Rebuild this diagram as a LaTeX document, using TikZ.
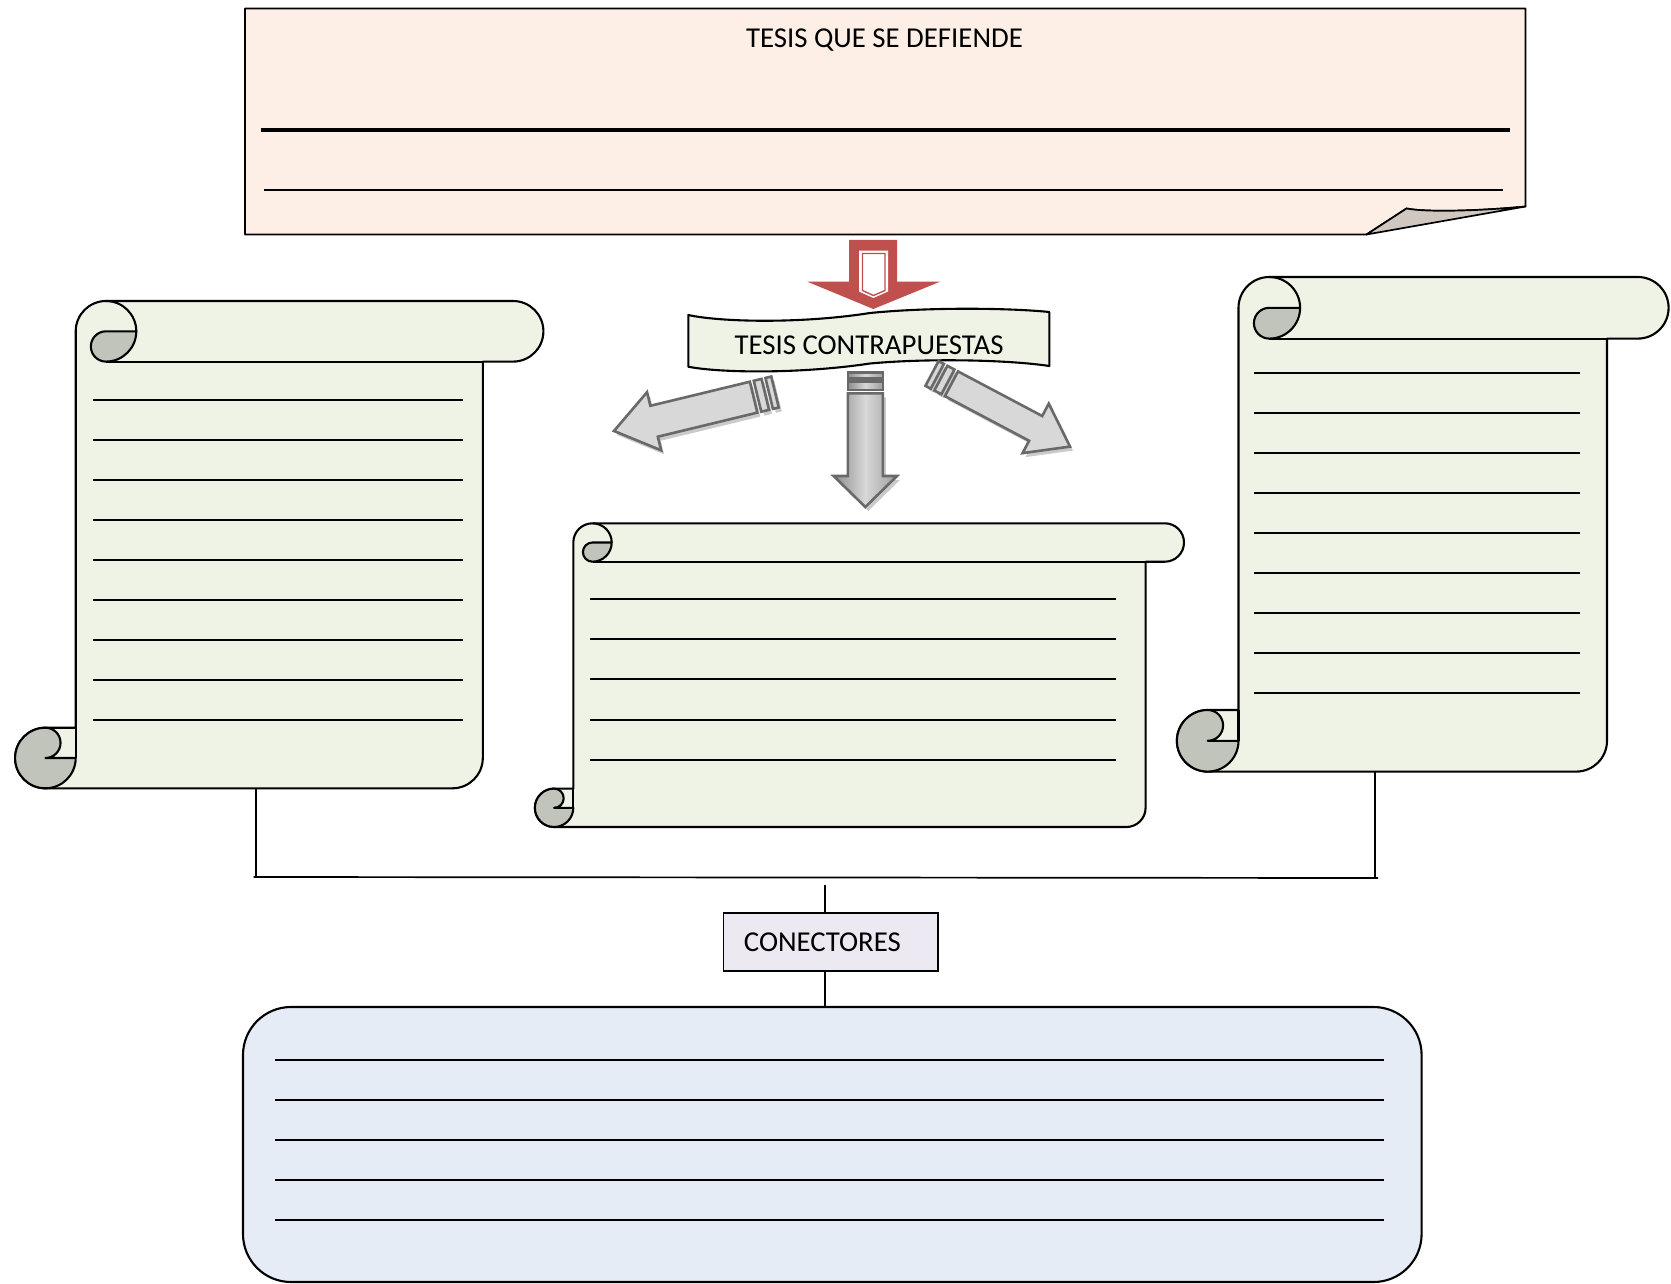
\documentclass[tikz,border=0pt]{standalone}
\usepackage{fontspec}
\setmainfont{Carlito}

\definecolor{pagebg}{RGB}{253,239,230}
\definecolor{foldgray}{RGB}{208,200,192}
\definecolor{scrollbg}{RGB}{239,243,229}
\definecolor{curlgray}{RGB}{193,196,186}
\definecolor{tipred}{RGB}{192,80,77}
\definecolor{arrowgray}{RGB}{216,216,216}
\definecolor{arrowedge}{RGB}{105,105,105}
\definecolor{shadegray}{RGB}{140,140,140}
\definecolor{notesbg}{RGB}{230,236,245}
\definecolor{conbg}{RGB}{236,233,242}

% vertical scroll: #1 left, #2 top, #3 right of sheet, #4 bottom, #5 curl radius
\newcommand{\vscroll}[5]{%
  \def\ScrL{#1}\def\ScrT{#2}\def\ScrR{#3}\def\ScrB{#4}\def\ScrRad{#5}%
  \path[sheet] (\ScrL,\ScrT+\ScrRad) arc[start angle=180,end angle=270,radius=\ScrRad]
    -- (\ScrR+\ScrRad,\ScrT) arc[start angle=270,end angle=450,radius=\ScrRad]
    -- (\ScrR,\ScrT+2*\ScrRad) -- (\ScrR,\ScrB-\ScrRad)
    arc[start angle=0,end angle=90,radius=\ScrRad]
    -- (\ScrL-\ScrRad,\ScrB) arc[start angle=90,end angle=270,radius=\ScrRad]
    -- (\ScrL,\ScrB-2*\ScrRad) -- cycle;
  \draw[ink] (\ScrL+\ScrRad,\ScrT+2*\ScrRad) -- (\ScrR,\ScrT+2*\ScrRad);
  \draw[ink] (\ScrL+2*\ScrRad,\ScrT+\ScrRad) arc[start angle=0,end angle=-90,radius=\ScrRad];
  \draw[ink] (\ScrL,\ScrB-2*\ScrRad) -- (\ScrL,\ScrB-\ScrRad);
  \path[curl] (\ScrL+2*\ScrRad,\ScrT+\ScrRad) arc[start angle=0,end angle=90,radius=\ScrRad]
    arc[start angle=90,end angle=270,radius=\ScrRad/2] -- cycle;
  \path[curl] (\ScrL-\ScrRad,\ScrB-2*\ScrRad) arc[start angle=270,end angle=0,radius=\ScrRad]
    -- (\ScrL-\ScrRad,\ScrB-\ScrRad) arc[start angle=90,end angle=-90,radius=\ScrRad/2] -- cycle;
}

% striped arrow: #1,#2 tail, #3 rotation, #4 length, #5 head length, #6 half shaft, #7 half head, #8 style
\newcommand{\stripedarrow}[8]{%
  \begin{scope}[shift={(#1,#2)},rotate=#3]
    \path[#8] (0,-#6) rectangle (6,#6);
    \path[#8] (10,-#6) rectangle (18,#6);
    \path[#8] (22,-#6) -- (#4-#5,-#6) -- (#4-#5,-#7) -- (#4,0)
      -- (#4-#5,#7) -- (#4-#5,#6) -- (22,#6) -- cycle;
  \end{scope}}

\begin{document}
\begin{tikzpicture}[x=1pt,y=-1pt,
  every node/.style={font=\fontsize{28.8}{34}\selectfont},
  ink/.style={draw=black,line width=2.1pt,line join=round},
  sheet/.style={ink,fill=scrollbg},
  curl/.style={ink,fill=curlgray},
  rule/.style={draw=black,line width=2pt},
  link/.style={draw=black,line width=1.7pt},
  arrowbody/.style={fill=arrowgray,draw=arrowedge,line width=2.6pt,line join=miter},
  arrowshadow/.style={fill=black!45,opacity=.45},
  downbody/.style={left color=shadegray,right color=shadegray!85,middle color=arrowgray,
                   draw=arrowedge,line width=2.6pt,line join=miter},
  conbox/.style={draw=black,line width=1.7pt,fill=conbg,minimum width=214.2pt,
                 minimum height=57.6pt,text width=173.6pt,inner xsep=20.3pt,align=left},
  notesbox/.style={draw=black,line width=2.1pt,fill=notesbg,rounded corners=48pt,
                   minimum width=1178.6pt,minimum height=275pt}]
\useasboundingbox (0,0) rectangle (1671,1284);

% thesis sheet with folded corner
\path[ink,fill=pagebg,line width=1.7pt] (245,8.5) -- (1525.5,8.5) -- (1525.5,206.5)
  .. controls (1490,210) and (1430,213) .. (1406.5,208.5)
  -- (1366.5,234.5) -- (245,234.5) -- cycle;
\path[ink,fill=foldgray,line width=1.7pt] (1366.5,234.5) -- (1406.5,208.5)
  .. controls (1430,213) and (1490,210) .. (1525.5,206.5) -- cycle;
\node[anchor=base] (thesis) at (884.5,47.7) {TESIS QUE SE DEFIENDE};
\draw[line width=3.4pt] (261,130) -- (1510,130);
\draw[rule] (264.3,189.7) -- (1502.6,189.7);

% red arrow towards the opposing theses
\fill[tipred] (849,240) -- (897,240) -- (897,281.7) -- (940,281.7) -- (873.3,309)
  -- (807.3,281.7) -- (849,281.7) -- cycle;
\fill[white] (859,250.7) -- (888,250.7) -- (888,291.5) -- (873.4,298) -- (859,291.5) -- cycle;
\draw[tipred,line width=1.4pt] (862.5,253.5) -- (885,253.5) -- (885,290.5) -- (873.4,295.5)
  -- (862.5,290.5) -- cycle;

% wave banner
\path[sheet] (688.3,315) .. controls (720,322) and (800,324) .. (870,313)
  .. controls (930,307) and (1010,308) .. (1049.3,312) -- (1049.3,366)
  .. controls (1010,360) and (930,358) .. (870,363.5)
  .. controls (800,374) and (720,373) .. (688.3,366.7) -- cycle;
\node[anchor=base] (contra) at (869,354) {TESIS CONTRAPUESTAS};

% gray arrows
\stripedarrow{778}{396}{193.6}{165.7}{41.3}{15.9}{29.9}{arrowshadow}
\stripedarrow{775}{392}{193.6}{165.7}{41.3}{15.9}{29.9}{arrowbody}
\stripedarrow{935}{377.5}{-27.9}{156.2}{38.9}{14}{28}{arrowshadow}
\stripedarrow{932}{373.5}{-27.9}{156.2}{38.9}{14}{28}{arrowbody}
\begin{scope}[shift={(3,4)}]
  \path[arrowshadow] (847.8,393.3) -- (882.8,393.3) -- (882.8,476) -- (897,476) -- (865.3,507)
    -- (833.6,476) -- (847.8,476) -- cycle;
\end{scope}
\path[downbody] (847.8,372.3) rectangle (882.8,378.3);
\path[downbody] (847.8,381.7) rectangle (882.8,390);
\path[downbody] (847.8,393.3) -- (882.8,393.3) -- (882.8,476) -- (897,476) -- (865.3,507)
  -- (833.6,476) -- (847.8,476) -- cycle;

% three scrolls with writing lines
\vscroll{75.7}{301}{482.8}{788.3}{30.3}
\foreach \k in {0,...,8} \draw[rule] (92.7,399.5+40*\k) -- (462.5,399.5+40*\k);
\vscroll{573.3}{523.3}{1145.6}{827}{19.2}
\foreach \k in {0,...,4} \draw[rule] (590.4,599+40.2*\k) -- (1115.8,599+40.2*\k);
\vscroll{1238.5}{277}{1607}{771.6}{30.8}
\foreach \k in {0,...,8} \draw[rule] (1254.3,373+40*\k) -- (1580.4,373+40*\k);

% connectors
\coordinate (lfoot) at (255.8,788.3);
\coordinate (rfoot) at (1374.8,771.6);
\coordinate (busL) at (253.6,877);
\coordinate (busR) at (1378,878);
\draw[link] (lfoot) -- (lfoot |- busL);
\draw[link] (rfoot) -- (rfoot |- busR);
\draw[link] (busL) -- (busR);

\node[conbox] (con) at (830.7,942.1) {CONECTORES};
\node[notesbox] (notes) at (832.3,1144.5) {};
\coordinate (tick) at (824.8,884.5);
\draw[link] (tick) -- (tick |- con.north);
\draw[link] (tick |- con.south) -- (tick |- notes.north);
\foreach \k in {0,...,4} \draw[rule] (275,1060.4+40*\k) -- (1384.3,1060.4+40*\k);
\end{tikzpicture}
\end{document}
